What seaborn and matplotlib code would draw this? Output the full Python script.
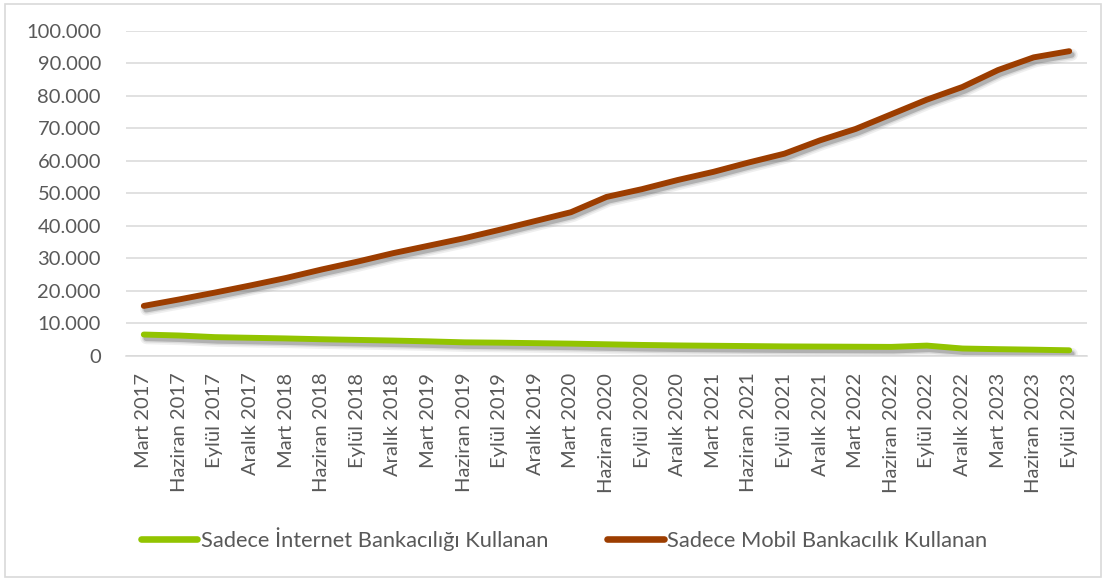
import matplotlib
matplotlib.use("Agg")
import matplotlib.pyplot as plt
import matplotlib.patheffects as pe
from matplotlib.lines import Line2D
from matplotlib.patches import Rectangle
from matplotlib.ticker import FuncFormatter
import seaborn as sns
import pandas as pd

# Quarterly periods
periods = [
    "Mart 2017", "Haziran 2017", "Eylül 2017", "Aralık 2017",
    "Mart 2018", "Haziran 2018", "Eylül 2018", "Aralık 2018",
    "Mart 2019", "Haziran 2019", "Eylül 2019", "Aralık 2019",
    "Mart 2020", "Haziran 2020", "Eylül 2020", "Aralık 2020",
    "Mart 2021", "Haziran 2021", "Eylül 2021", "Aralık 2021",
    "Mart 2022", "Haziran 2022", "Eylül 2022", "Aralık 2022",
    "Mart 2023", "Haziran 2023", "Eylül 2023",
]

# Number of customers (thousands of people)
internet_only = [
    6600, 6300, 5800, 5600, 5400, 5150, 4950, 4750, 4500, 4200,
    4100, 3950, 3800, 3600, 3400, 3250, 3150, 3050, 2950, 2900,
    2850, 2800, 3200, 2300, 2100, 1950, 1750,
]
mobile_only = [
    15400, 17400, 19500, 21700, 24000, 26600, 29000, 31600, 33900, 36200,
    38800, 41500, 44200, 48900, 51300, 54100, 56600, 59500, 62200, 66300,
    69800, 74300, 78800, 82700, 87900, 91800, 93700,
]

series_names = ["Sadece İnternet Bankacılığı Kullanan", "Sadece Mobil Bankacılık Kullanan"]
series_colors = ["#92C400", "#9C3D00"]
y_ticks = list(range(0, 100001, 10000))

df = pd.DataFrame({
    "idx": list(range(len(periods))) * 2,
    "value": internet_only + mobile_only,
    "series": [series_names[0]] * len(periods) + [series_names[1]] * len(periods),
})

sns.set_theme(style="white")
plt.rcParams["font.family"] = ["Lato", "DejaVu Sans"]

W, H = 1106, 579
fig = plt.figure(figsize=(W / 100, H / 100), dpi=100)
ax = fig.add_axes([126 / W, 1 - 356 / H, (1087 - 126) / W, (356 - 30.7) / H])

lw = 4.25
off = (1.8, -2.6)
shadow = [
    pe.SimpleLineShadow(offset=off, shadow_color="#808080", alpha=0.12, linewidth=lw + 4.5),
    pe.SimpleLineShadow(offset=off, shadow_color="#808080", alpha=0.18, linewidth=lw + 2),
    pe.SimpleLineShadow(offset=off, shadow_color="#666666", alpha=0.35, linewidth=lw),
    pe.Normal(),
]

sns.lineplot(
    data=df, x="idx", y="value", hue="series", hue_order=series_names,
    palette=series_colors, linewidth=lw, legend=False, ax=ax, sort=False,
)
for line in ax.get_lines():
    line.set_solid_capstyle("round")
    line.set_solid_joinstyle("round")
    line.set_path_effects(shadow)

ax.set_xlim(-0.5, len(periods) - 0.5)
ax.set_ylim(0, 100000)
ax.set_yticks(y_ticks)
ax.yaxis.set_major_formatter(FuncFormatter(lambda v, p: f"{int(v):,}".replace(",", ".")))
ax.set_xticks(range(len(periods)))
ax.set_xticklabels(periods, rotation=90)
ax.set_xlabel("")
ax.set_ylabel("")

ax.grid(axis="y", color="#D9D9D9", linewidth=1.1)
ax.set_axisbelow(True)
for side in ["top", "right", "left"]:
    ax.spines[side].set_visible(False)
ax.spines["bottom"].set_color("#D9D9D9")
ax.spines["bottom"].set_linewidth(1.1)

ax.tick_params(axis="x", length=0, pad=12, labelsize=14.5, labelcolor="#595959")
ax.tick_params(axis="y", length=0, pad=18, labelsize=14.5, labelcolor="#595959")

handles = [
    Line2D([0], [0], color=c, linewidth=lw + 0.5, solid_capstyle="round")
    for c in series_colors
]
fig.legend(
    handles, series_names, loc="center", ncol=2, frameon=False,
    bbox_to_anchor=(564 / W, 1 - 539 / H),
    fontsize=15.75, labelcolor="#595959",
    handlelength=2.6, handletextpad=0.15, columnspacing=2.7,
)

fig.patches.append(Rectangle(
    (5 / W, 2 / H), (1101 - 5) / W, (577 - 4) / H,
    transform=fig.transFigure, fill=False, edgecolor="#D9D9D9", linewidth=1.2,
))

fig.savefig("out.png", dpi=100)
